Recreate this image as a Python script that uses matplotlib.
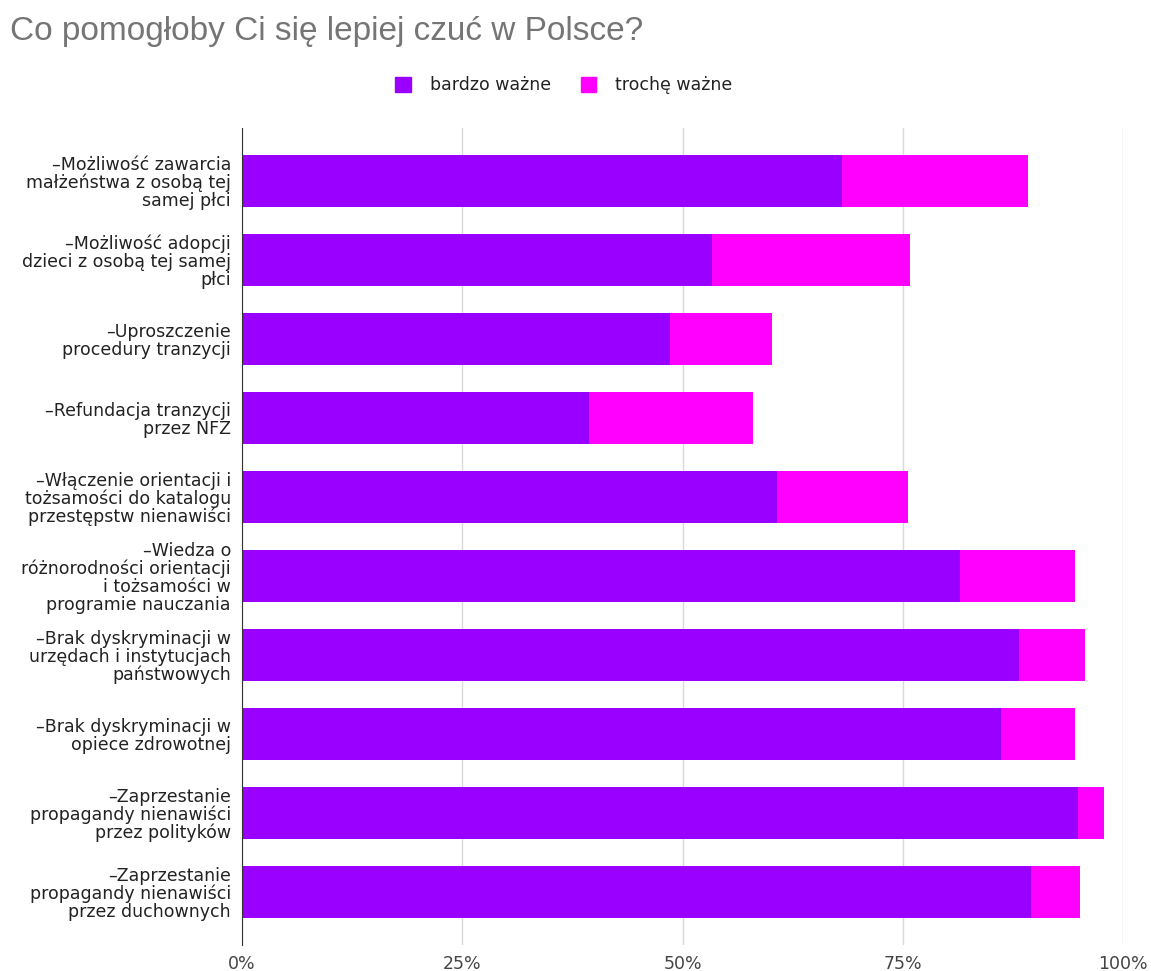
import matplotlib.pyplot as plt
from matplotlib.patches import Patch

plt.rcParams["font.family"] = ["DejaVu Sans"]

labels = [
    "–Możliwość zawarcia\nmałżeństwa z osobą tej\nsamej płci",
    "–Możliwość adopcji\ndzieci z osobą tej samej\npłci",
    "–Uproszczenie\nprocedury tranzycji",
    "–Refundacja tranzycji\nprzez NFZ",
    "–Włączenie orientacji i\ntożsamości do katalogu\nprzestępstw nienawiści",
    "–Wiedza o\nróżnorodności orientacji\ni tożsamości w\nprogramie nauczania",
    "–Brak dyskryminacji w\nurzędach i instytucjach\npaństwowych",
    "–Brak dyskryminacji w\nopiece zdrowotnej",
    "–Zaprzestanie\npropagandy nienawiści\nprzez polityków",
    "–Zaprzestanie\npropagandy nienawiści\nprzez duchownych",
]
bardzo = [68.1, 53.3, 48.6, 39.4, 60.7, 81.5, 88.2, 86.2, 94.9, 89.6]
troche = [21.1, 22.5, 11.6, 18.6, 14.9, 13.1, 7.5, 8.4, 2.9, 5.5]

purple = "#9900ff"
pink = "#ff00ff"

fig = plt.figure(figsize=(11.51, 9.71), dpi=100)
ax = fig.add_axes([0.2103, 0.0268, 0.7654, 0.8414])

y = list(range(len(labels)))
ax.barh(y, bardzo, height=0.65, color=purple, zorder=3)
ax.barh(y, troche, left=bardzo, height=0.65, color=pink, zorder=3)

ax.set_xlim(0, 100)
ax.set_ylim(9.67, -0.67)
ax.set_xticks([0, 25, 50, 75, 100])
ax.set_xticklabels(["0%", "25%", "50%", "75%", "100%"], fontsize=12.5, color="#444444")
ax.set_yticks(y)
ax.set_yticklabels(labels, fontsize=12.5, color="#222222", linespacing=0.98)
ax.tick_params(axis="y", length=0, pad=8)
ax.tick_params(axis="x", length=0, pad=7)
ax.grid(axis="x", color="#d9d9d9", linewidth=1, zorder=0)
for s in ["top", "right", "bottom"]:
    ax.spines[s].set_visible(False)
ax.spines["left"].set_color("#333333")
ax.spines["left"].set_zorder(4)

# title
fig.text(0.009, 0.984, "Co pomogłoby Ci się lepiej czuć w Polsce?", fontsize=24,
         color="#757575", va="top", ha="left", family="Liberation Sans")

handles = [Patch(color=purple, label="bardzo ważne"), Patch(color=pink, label="trochę ważne")]
fig.legend(handles=handles, loc="center", bbox_to_anchor=(0.49, 0.912), ncol=2,
           frameon=False, fontsize=12.5, handlelength=0.9, handleheight=0.9,
           handletextpad=1.1, columnspacing=1.7, labelcolor="#222222")

plt.savefig("out.png", dpi=100)
